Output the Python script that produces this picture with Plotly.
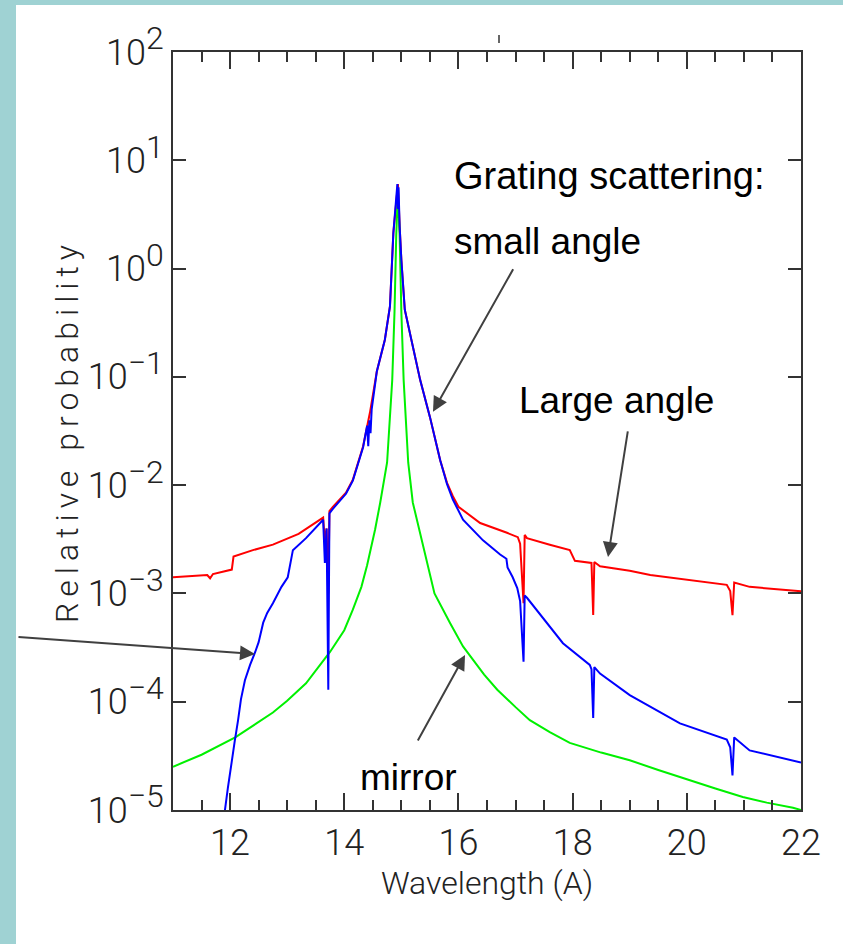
import plotly.graph_objects as go

# ---------------- data ----------------
large_x = [11.00, 11.60, 11.65, 11.70, 12.03, 12.06, 12.40, 12.75, 13.20, 13.59, 13.63, 13.66,
           13.69, 13.72, 13.74, 13.80, 14.03, 14.15, 14.33, 14.45, 14.57, 14.71, 14.80, 14.86,
           14.91, 14.94, 14.97, 15.00, 15.06, 15.19, 15.33, 15.50, 15.68, 15.80, 15.90, 16.00,
           16.38, 16.85, 17.04, 17.08, 17.14, 17.16, 17.20, 17.60, 17.95, 18.04, 18.33, 18.36,
           18.38, 18.48, 19.00, 19.36, 20.23, 20.70, 20.76, 20.80, 20.83, 20.90, 21.10, 22.00]
large_y = [1.41e-3, 1.48e-3, 1.38e-3, 1.51e-3, 1.66e-3, 2.19e-3, 2.51e-3, 2.82e-3, 3.55e-3, 4.79e-3, 5.01e-3, 3.02e-3,
           3.98e-3, 1.00e-3, 5.75e-3, 6.31e-3, 8.51e-3, 1.12e-2, 2.29e-2, 4.68e-2, 0.112, 0.219, 0.447, 2.14,
           4.37, 6.03, 2.45, 1.20, 0.417, 0.209, 9.33e-2, 4.27e-2, 1.70e-2, 1.05e-2, 7.94e-3, 6.31e-3,
           4.47e-3, 3.63e-3, 3.31e-3, 2.88e-3, 8.13e-4, 3.47e-3, 3.24e-3, 2.82e-3, 2.51e-3, 2.00e-3, 1.91e-3, 6.31e-4,
           1.95e-3, 1.78e-3, 1.62e-3, 1.48e-3, 1.29e-3, 1.20e-3, 1.05e-3, 6.31e-4, 1.26e-3, 1.23e-3, 1.15e-3, 1.05e-3]

small_x = [11.88, 11.91, 11.96, 12.02, 12.08, 12.14, 12.19, 12.26, 12.35, 12.44, 12.50, 12.58,
           12.65, 12.75, 12.90, 13.01, 13.04, 13.10, 13.33, 13.59, 13.63, 13.66, 13.69, 13.72,
           13.74, 13.80, 14.03, 14.15, 14.33, 14.40, 14.42, 14.44, 14.46, 14.48, 14.57, 14.71,
           14.80, 14.86, 14.91, 14.93, 14.94, 14.95, 14.97, 15.00, 15.06, 15.19, 15.33, 15.50,
           15.68, 15.80, 15.90, 16.08, 16.43, 16.73, 16.84, 16.86, 16.95, 17.03, 17.08, 17.14,
           17.16, 17.20, 17.83, 18.30, 18.33, 18.36, 18.38, 18.48, 19.00, 19.88, 20.70, 20.76,
           20.80, 20.83, 20.95, 21.10, 22.00]
small_y = [5.01e-6, 1.00e-5, 1.58e-5, 2.69e-5, 4.27e-5, 6.76e-5, 1.05e-4, 1.58e-4, 2.19e-4, 2.88e-4, 3.55e-4, 5.37e-4,
           6.61e-4, 8.13e-4, 1.15e-3, 1.41e-3, 1.74e-3, 2.51e-3, 3.24e-3, 4.47e-3, 4.79e-3, 1.91e-3, 3.98e-3, 1.29e-4,
           5.50e-3, 6.03e-3, 8.32e-3, 1.10e-2, 2.24e-2, 3.55e-2, 2.29e-2, 3.98e-2, 3.02e-2, 5.01e-2, 0.112, 0.219,
           0.447, 2.14, 4.37, 6.03, 3.55, 5.62, 2.45, 1.20, 0.417, 0.209, 9.33e-2, 4.27e-2,
           1.70e-2, 1.02e-2, 7.41e-3, 4.79e-3, 3.09e-3, 2.29e-3, 2.09e-3, 1.74e-3, 1.41e-3, 1.12e-3, 8.51e-4, 2.34e-4,
           9.55e-4, 9.12e-4, 3.47e-4, 2.19e-4, 2.00e-4, 7.08e-5, 2.09e-4, 1.82e-4, 1.15e-4, 6.31e-5, 4.47e-5, 3.80e-5,
           2.09e-5, 4.68e-5, 4.17e-5, 3.55e-5, 2.75e-5]

mirror_x = [11.00, 11.50, 12.09, 12.75, 13.00, 13.33, 13.75, 14.00, 14.15, 14.30, 14.40, 14.54,
            14.63, 14.75, 14.84, 14.88, 14.91, 14.94, 14.97, 15.00, 15.04, 15.12, 15.20, 15.31,
            15.45, 15.58, 15.85, 16.08, 16.45, 16.68, 17.00, 17.25, 17.60, 17.95, 18.50, 19.00,
            19.50, 20.00, 20.50, 20.98, 21.40, 21.86, 22.00]
mirror_y = [2.51e-5, 3.24e-5, 4.68e-5, 7.94e-5, 1.02e-4, 1.48e-4, 2.88e-4, 4.57e-4, 7.08e-4, 1.15e-3, 1.82e-3, 3.89e-3,
            6.92e-3, 1.62e-2, 9.33e-2, 0.398, 2.00, 5.25, 2.00, 0.398, 9.33e-2, 1.62e-2, 6.92e-3, 3.89e-3,
            1.91e-3, 1.00e-3, 5.37e-4, 3.24e-4, 1.78e-4, 1.29e-4, 8.91e-5, 6.76e-5, 5.25e-5, 4.17e-5, 3.39e-5, 2.88e-5,
            2.34e-5, 1.91e-5, 1.58e-5, 1.32e-5, 1.17e-5, 1.05e-5, 1.00e-5]

x_tick_vals = [12, 14, 16, 18, 20, 22]
x_tick_text = ["12", "14", "16", "18", "20", "22"]
y_tick_vals = [1e2, 1e1, 1e0, 1e-1, 1e-2, 1e-3, 1e-4, 1e-5]
y_tick_exp = ["2", "1", "0", "\u22121", "\u22122", "\u22123", "\u22124", "\u22125"]

# ---------------- figure ----------------
W, H = 843, 944
L, R, T, B = 173, 42, 52, 134
PW, PH = W - L - R, H - T - B

def px(xp):
    return (xp - L) / PW

def py(yp):
    return (H - B - yp) / PH

AX = "#333333"
FAM = "Roboto"
TICKFONT = dict(family=FAM, size=36, color="#222222", weight=300)

fig = go.Figure()
fig.add_trace(go.Scatter(x=large_x, y=large_y, mode="lines", name="Large angle",
                         line=dict(color="#ff0000", width=2)))
fig.add_trace(go.Scatter(x=mirror_x, y=mirror_y, mode="lines", name="mirror",
                         line=dict(color="#00f000", width=2)))
fig.add_trace(go.Scatter(x=small_x, y=small_y, mode="lines", name="small angle",
                         line=dict(color="#0000ff", width=2)))

y_tick_text = ["10<sup><span style='font-size:32px'>%s</span></sup>" % e for e in y_tick_exp]

fig.update_layout(
    width=W, height=H,
    font=dict(family=FAM, size=36, color="#222222"),
    margin=dict(l=L, r=R, t=T, b=B, pad=0),
    paper_bgcolor="white", plot_bgcolor="white",
    showlegend=False,
    xaxis=dict(range=[11, 22], tickvals=x_tick_vals, ticktext=x_tick_text,
               ticks="inside", ticklen=17, tickwidth=1.5, tickcolor=AX,
               showline=True, linecolor=AX, linewidth=2, mirror="ticks",
               showgrid=False, zeroline=False, tickfont=TICKFONT,
               minor=dict(ticks="inside", ticklen=10, dtick=0.5, tick0=11,
                          tickwidth=1.5, tickcolor=AX, showgrid=False),
               title=dict(text="Wavelength (A)", standoff=4,
                          font=dict(family=FAM, size=32, color="#222222", weight=300))),
    yaxis=dict(type="log", range=[-5, 2], tickvals=y_tick_vals, ticktext=y_tick_text,
               ticks="inside", ticklen=13, tickwidth=1.5, tickcolor=AX,
               showline=True, linecolor=AX, linewidth=2, mirror="ticks",
               showgrid=False, zeroline=False, tickfont=TICKFONT,
               title=dict(text="<span style='letter-spacing:6px'>Relative probability</span>",
                          standoff=0,
                          font=dict(family=FAM, size=32, color="#222222", weight=300))),
)

TEAL = "#9fd2d3"
shapes = [
    dict(type="rect", xref="paper", yref="paper", x0=px(0), x1=px(16), y0=py(H), y1=py(0),
         fillcolor=TEAL, line=dict(width=0), layer="below"),
    dict(type="rect", xref="paper", yref="paper", x0=px(0), x1=px(W), y0=py(5), y1=py(0),
         fillcolor=TEAL, line=dict(width=0), layer="below"),
    dict(type="line", xref="paper", yref="paper", x0=px(499), x1=px(499), y0=py(43), y1=py(35),
         line=dict(color=AX, width=1.5)),
]
fig.update_layout(shapes=shapes)

TXT = dict(family="Liberation Sans, Arial, sans-serif", size=37, color="black")
ARW = "#404040"
notes = [
    dict(text="Grating scattering:", x=px(452), y=py(176), size=38),
    dict(text="small angle", x=px(452), y=py(241), size=37),
    dict(text="Large angle", x=px(517), y=py(400), size=37),
    dict(text="mirror", x=px(358), y=py(777), size=37),
]
for n in notes:
    fig.add_annotation(text=n["text"], x=n["x"], y=n["y"], xref="paper", yref="paper",
                       xanchor="left", yanchor="middle", showarrow=False,
                       font=dict(TXT, size=n["size"]))

# arrows: head in data coords (log10 for y), tail offset in pixels
arrows = [
    (15.554, -1.322, 81, -144),
    (18.620, -2.663, 20, -127),
    (16.115, -3.568, -48, 87),
    (12.436, -3.559, -238, -17),
]
for (hx, hy, ax, ay) in arrows:
    fig.add_annotation(text="", x=hx, y=hy, xref="x", yref="y", ax=ax, ay=ay,
                       showarrow=True, arrowhead=2, arrowsize=1.5, arrowwidth=2,
                       arrowcolor=ARW, standoff=0)

fig.write_html("out.html")
